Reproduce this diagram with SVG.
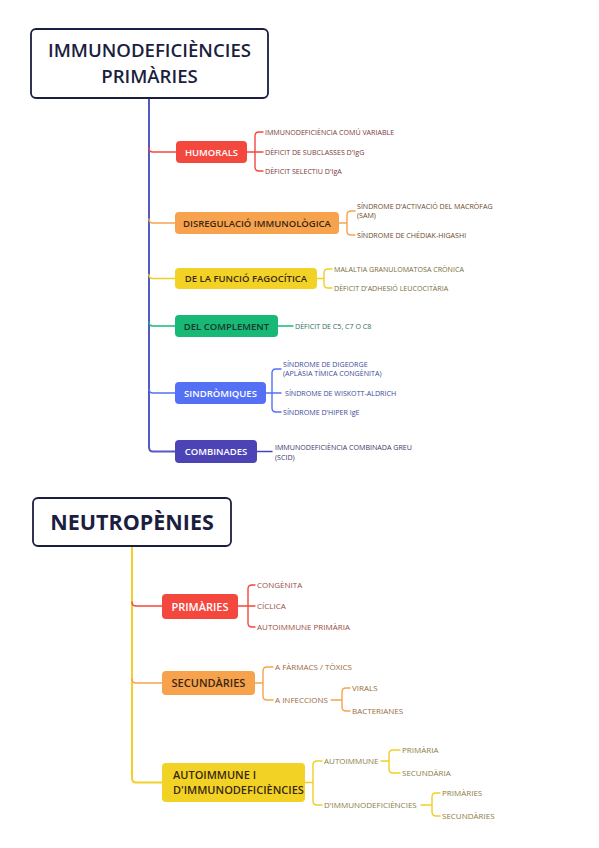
<svg xmlns="http://www.w3.org/2000/svg" width="599" height="848" viewBox="0 0 599 848">
<style>
  text { font-family: "Open Sans", "Noto Sans", "Liberation Sans", sans-serif; }
  .title { font-size: 18.6px; font-weight: 600; fill: #1b1e3e; text-anchor: middle; }
  .title2 { font-size: 21.5px; font-weight: 700; fill: #1b1e3e; text-anchor: middle; }
  .tbox { fill: #ffffff; stroke: #1b1e3e; stroke-width: 1.8; }
  .lbl { font-size: 9.5px; font-weight: 600; text-anchor: middle; }
  .lbl2 { font-size: 11px; font-weight: 600; }
  .w { fill: #ffffff; }
  .d { fill: #3a2814; }
  .c1 { font-size: 7.1px; }
  .c2 { font-size: 8px; }
  .ln { fill: none; stroke-width: 1.4; stroke-linecap: round; }
  .red { stroke: #f4473d; } .ora { stroke: #f7a24c; } .yel { stroke: #f0cf26; }
  .grn { stroke: #18b877; } .blu { stroke: #5470f5; } .ind { stroke: #4b43b6; }
  .trunk1 { fill: none; stroke: #5459c4; stroke-width: 2; }
  .trunk2 { fill: none; stroke: #f2cf2a; stroke-width: 2; }
</style>

<g id="connectors">
  <!-- top trunk -->
  <path class="trunk1" d="M149,98 V447 Q149,451.5 153,451.5 H175"/>
  <path class="ln red" d="M149,148 Q149,152 153,152 H176"/>
  <path class="ln ora" d="M149,219 Q149,223 153,223 H175"/>
  <path class="ln yel" d="M149,274.5 Q149,278.5 153,278.5 H175"/>
  <path class="ln grn" d="M149,322 Q149,326 153,326 H175"/>
  <path class="ln blu" d="M149,389 Q149,393 153,393 H175"/>
  <!-- top brackets -->
  <path class="ln red" d="M247,152 H263 M255,152 V136 Q255,132 259,132 H263 M255,152 V167 Q255,171 259,171 H263"/>
  <path class="ln ora" d="M339,223 H347 V215 Q347,211 351,211 H355 M347,223 V231 Q347,235 351,235 H355"/>
  <path class="ln yel" d="M317,278.5 H324 V273 Q324,269 328,269 H332 M324,278.5 V284 Q324,288 328,288 H332"/>
  <path class="ln grn" d="M278,326 H293"/>
  <path class="ln blu" d="M266,393 H281 M272,393 V373 Q272,369 276,369 H281 M272,393 V408 Q272,412 276,412 H281"/>
  <path class="ln ind" d="M257,451.5 H272"/>
  <!-- bottom trunk -->
  <path class="trunk2" d="M132,546 V778 Q132,782.5 136,782.5 H162"/>
  <path class="ln red" d="M132,602 Q132,606 136,606 H162"/>
  <path class="ln ora" d="M132,679 Q132,683 136,683 H162"/>
  <!-- bottom brackets -->
  <path class="ln red" d="M238,606 H255 M248,606 V589 Q248,585 252,585 H255 M248,606 V623 Q248,627 252,627 H255"/>
  <path class="ln ora" d="M255,683 H263 V671 Q263,667 267,667 H273 M263,683 V696 Q263,700 267,700 H273"/>
  <path class="ln ora" d="M331,700 H342 V692 Q342,688 346,688 H350 M342,700 V707 Q342,711 346,711 H350"/>
  <path class="ln yel" d="M305,782.5 H313 V765 Q313,761 317,761 H322 M313,782.5 V801 Q313,805 317,805 H322"/>
  <path class="ln yel" d="M381,761 H389 V754 Q389,750 393,750 H400 M389,761 V769 Q389,773 393,773 H400"/>
  <path class="ln yel" d="M421,805 H432 V797 Q432,793 436,793 H440 M432,805 V812 Q432,816 436,816 H440"/>
</g>

<g id="root-immuno">
  <rect class="tbox" x="31" y="29" width="237" height="69" rx="5"/>
  <text class="title" x="149.5" y="57">IMMUNODEFICIÈNCIES</text>
  <text class="title" x="149.5" y="83">PRIMÀRIES</text>
</g>

<g id="humorals">
  <rect x="176" y="141" width="71" height="22" rx="4" fill="#f4473d"/>
  <text class="lbl w" x="211.5" y="155.5">HUMORALS</text>
</g>
<g id="humorals-children" fill="#7b3a3a">
  <text class="c1" x="265" y="134.6">IMMUNODEFICIÈNCIA COMÚ VARIABLE</text>
  <text class="c1" x="265" y="154.6">DÈFICIT DE SUBCLASSES D'IgG</text>
  <text class="c1" x="265" y="173.6">DÈFICIT SELECTIU D'IgA</text>
</g>

<g id="disregulacio">
  <rect x="175" y="212" width="164" height="22" rx="4" fill="#f7a24c"/>
  <text class="lbl d" x="257" y="226.5">DISREGULACIÓ IMMUNOLÒGICA</text>
</g>
<g id="disregulacio-children" fill="#6b4a2a">
  <text class="c1" x="357" y="209">SÍNDROME D'ACTIVACIÓ DEL MACRÒFAG</text>
  <text class="c1" x="357" y="218">(SAM)</text>
  <text class="c1" x="357" y="237.6">SÍNDROME DE CHÉDIAK-HIGASHI</text>
</g>

<g id="fagocitica">
  <rect x="175" y="268" width="142" height="21" rx="4" fill="#f2d325"/>
  <text class="lbl d" x="246" y="282">DE LA FUNCIÓ FAGOCÍTICA</text>
</g>
<g id="fagocitica-children" fill="#7a6c3a">
  <text class="c1" x="334" y="271.6">MALALTIA GRANULOMATOSA CRÒNICA</text>
  <text class="c1" x="334" y="290.6">DÈFICIT D'ADHESIÓ LEUCOCITÀRIA</text>
</g>

<g id="complement">
  <rect x="175" y="315" width="103" height="22" rx="4" fill="#18b877"/>
  <text class="lbl" x="226.5" y="329.5" fill="#14382a">DEL COMPLEMENT</text>
</g>
<g id="complement-children" fill="#2f6e55">
  <text class="c1" x="295" y="328.6">DÈFICIT DE C5, C7 O C8</text>
</g>

<g id="sindromiques">
  <rect x="175" y="382" width="91" height="22" rx="4" fill="#5470f5"/>
  <text class="lbl w" x="220.5" y="396.5">SINDRÒMIQUES</text>
</g>
<g id="sindromiques-children" fill="#3d4a9a">
  <text class="c1" x="283" y="366.6">SÍNDROME DE DIGEORGE</text>
  <text class="c1" x="283" y="375.6">(APLÀSIA TÍMICA CONGÈNITA)</text>
  <text class="c1" x="285" y="395.6">SÍNDROME DE WISKOTT-ALDRICH</text>
  <text class="c1" x="283" y="414.6">SÍNDROME D'HIPER IgE</text>
</g>

<g id="combinades">
  <rect x="175" y="440" width="82" height="23" rx="4" fill="#4b43b6"/>
  <text class="lbl w" x="216" y="455">COMBINADES</text>
</g>
<g id="combinades-children" fill="#3b3a6a">
  <text class="c1" x="275" y="449.6">IMMUNODEFICIÈNCIA COMBINADA GREU</text>
  <text class="c1" x="275" y="459.6">(SCID)</text>
</g>

<g id="root-neutro">
  <rect class="tbox" x="33" y="498" width="198" height="48" rx="5"/>
  <text class="title2" x="132" y="529.5">NEUTROPÈNIES</text>
</g>

<g id="n-primaries">
  <rect x="162" y="594" width="76" height="25" rx="4" fill="#f4473d"/>
  <text class="lbl2 w" x="200" y="610.5" text-anchor="middle">PRIMÀRIES</text>
</g>
<g id="n-primaries-children" fill="#9a4d45">
  <text class="c2" x="257" y="588">CONGÈNITA</text>
  <text class="c2" x="257" y="609">CÍCLICA</text>
  <text class="c2" x="257" y="630">AUTOIMMUNE PRIMÀRIA</text>
</g>

<g id="n-secundaries">
  <rect x="162" y="671" width="93" height="24" rx="4" fill="#f7a24c"/>
  <text class="lbl2 d" x="208.5" y="687" text-anchor="middle">SECUNDÀRIES</text>
</g>
<g id="n-secundaries-children" fill="#9a6a40">
  <text class="c2" x="275" y="670">A FÀRMACS / TÒXICS</text>
  <text class="c2" x="275" y="703">A INFECCIONS</text>
  <text class="c2" x="352" y="691">VIRALS</text>
  <text class="c2" x="352" y="714">BACTERIANES</text>
</g>

<g id="n-autoimmune">
  <rect x="162" y="763" width="143" height="39" rx="4" fill="#f2d325"/>
  <text class="lbl2 d" x="173" y="778.5" font-size="10.2">AUTOIMMUNE I</text>
  <text class="lbl2 d" x="173" y="794" font-size="10.2">D'IMMUNODEFICIÈNCIES</text>
</g>
<g id="n-autoimmune-children" fill="#8c7c45">
  <text class="c2" x="324" y="764">AUTOIMMUNE</text>
  <text class="c2" x="324" y="808">D'IMMUNODEFICIÈNCIES</text>
  <text class="c2" x="402" y="753">PRIMÀRIA</text>
  <text class="c2" x="402" y="776">SECUNDÀRIA</text>
  <text class="c2" x="442" y="796">PRIMÀRIES</text>
  <text class="c2" x="442" y="819">SECUNDÀRIES</text>
</g>
</svg>
